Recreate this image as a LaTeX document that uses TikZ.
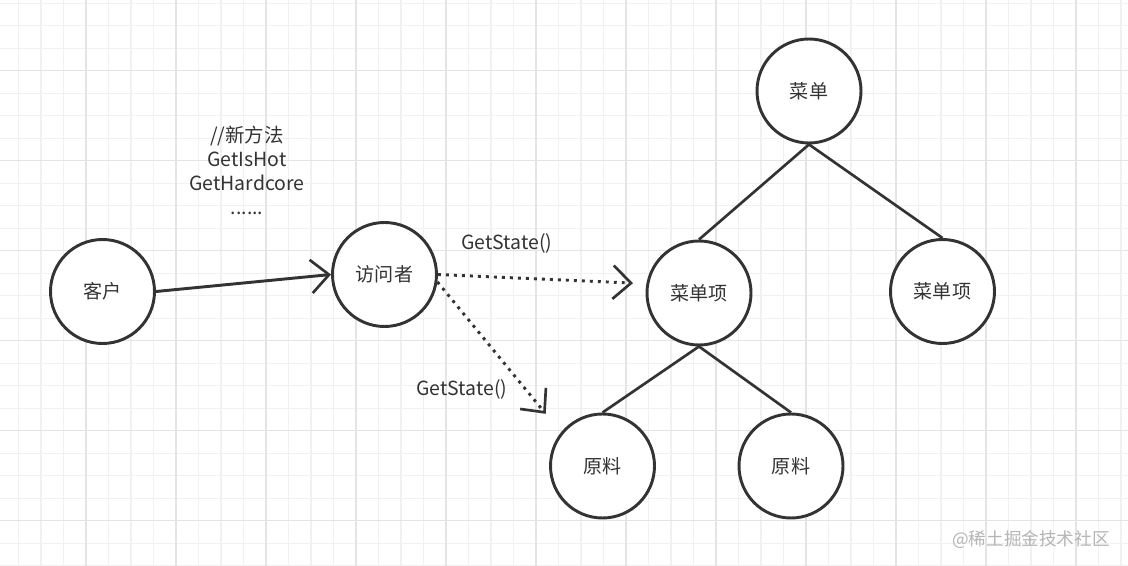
\documentclass[tikz,border=0pt]{standalone}
\usepackage{fontspec}
\setmainfont{Noto Sans CJK SC}
\usetikzlibrary{arrows.meta}
\definecolor{ink}{HTML}{333333}
\definecolor{gridminor}{HTML}{F1F1F1}
\definecolor{gridmajor}{HTML}{E4E4E4}
\definecolor{wmark}{HTML}{B5B5B5}
\begin{document}
\begin{tikzpicture}[x=0.75pt,y=-0.75pt,
  roundnode/.style={circle,draw=ink,line width=2.2pt,fill=white,minimum size=78pt,inner sep=0pt,
    text=ink,font=\fontsize{14.3}{17}\selectfont},
  lbl/.style={text=ink,font=\fontsize{14.6}{18}\selectfont,inner sep=0pt},
  treeline/.style={draw=ink,line width=2pt},
  solidarrow/.style={draw=ink,line width=2.2pt,-{Straight Barb[length=13.5pt,width=25pt,line width=2pt]}},
  dotarrow/.style={draw=ink,line width=2.2pt,dash pattern=on 2.2pt off 3.8pt,-{Straight Barb[length=13.5pt,width=25pt,line width=2pt]}}
]
\useasboundingbox (0,0) rectangle (1128,566);
\fill[white] (0,0) rectangle (1128,566);
% grid
\foreach \i in {0,...,49} {
  \draw[gridminor,line width=1pt] ({18.5+22.5*\i},0) -- ({18.5+22.5*\i},566);
}
\foreach \i in {0,...,25} {
  \draw[gridminor,line width=1pt] (0,{3.3+22.5*\i}) -- (1128,{3.3+22.5*\i});
}
\foreach \i in {0,...,12} {
  \draw[gridmajor,line width=1pt] ({86+90*\i},0) -- ({86+90*\i},566);
}
\foreach \i in {0,...,6} {
  \draw[gridmajor,line width=1pt] (0,{70.8+90*\i}) -- (1128,{70.8+90*\i});
}
% nodes
\node[roundnode] (kehu) at (102.5,291.5) {客户};
\node[roundnode] (fwz) at (384.5,274.5) {访问者};
\node[roundnode] (cd) at (809,91) {菜单};
\node[roundnode] (cdx1) at (699,293) {菜单项};
\node[roundnode] (cdx2) at (942.5,291.5) {菜单项};
\node[roundnode] (yl1) at (602.5,466) {原料};
\node[roundnode] (yl2) at (791,466) {原料};
% tree
\draw[treeline] (cd.south) -- (cdx1.north);
\draw[treeline] (cd.south) -- (cdx2.north);
\draw[treeline] (cdx1.south) -- (yl1.north);
\draw[treeline] (cdx1.south) -- (yl2.north);
% arrows
\draw[solidarrow] (kehu.east) -- (fwz.west);
\draw[dotarrow,shorten >=10pt] (fwz.east) -- (cdx1.170);
\draw[dotarrow,shorten >=18pt] (fwz.-8) -- (yl1.141);
% labels
\node[lbl,align=center] (note) at (247,170) {//新方法\\GetIsHot\\GetHardcore\\......};
\node[lbl] (gs1) at (507,243) {GetState()};
\node[lbl] (gs2) at (462,389) {GetState()};
\node[text=wmark,font=\fontsize{13.2}{15}\selectfont,inner sep=0pt] (wm) at (1031,540) {@稀土掘金技术社区};
\end{tikzpicture}
\end{document}
